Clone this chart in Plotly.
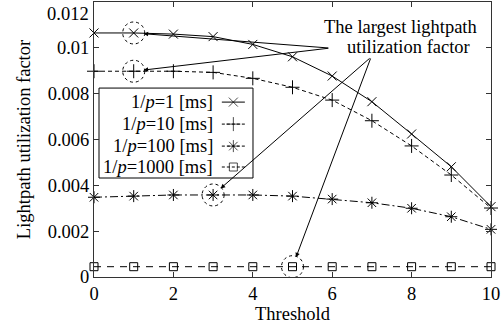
import plotly.graph_objects as go

# Threshold values on the x axis
threshold = [0, 1, 2, 3, 4, 5, 6, 7, 8, 9, 10]

# Lightpath utilization factor for each mean holding time 1/p
util_p1 = [0.01065, 0.01065, 0.0106, 0.01049, 0.01015, 0.00961, 0.00877, 0.00765, 0.00624, 0.00481, 0.00307]
util_p10 = [0.00898, 0.00898, 0.00898, 0.00893, 0.00867, 0.00828, 0.00772, 0.00682, 0.00572, 0.00445, 0.00301]
util_p100 = [0.00348, 0.00353, 0.00358, 0.00358, 0.00358, 0.00353, 0.0034, 0.00324, 0.003, 0.00263, 0.00208]
util_p1000 = [0.00045] * 11

series_names = ["1/<i>p</i>=1 [ms]", "1/<i>p</i>=10 [ms]", "1/<i>p</i>=100 [ms]", "1/<i>p</i>=1000 [ms]"]
series_values = [util_p1, util_p10, util_p100, util_p1000]

# Index of the point with the largest utilization in each series
peak_index = [1, 1, 3, 5]

y_tick_vals = [0, 0.002, 0.004, 0.006, 0.008, 0.01, 0.012]
y_tick_text = ["0", "0.002", "0.004", "0.006", "0.008", "0.01", "0.012"]
x_tick_vals = [0, 2, 4, 6, 8, 10]

FONT = "Liberation Serif"
FS = 18.5

styles = [
    dict(dash="solid", symbol="x-thin-open", size=9),
    dict(dash="4px,3px", symbol="cross-thin-open", size=10),
    dict(dash="8px,3px,2px,3px", symbol="asterisk-open", size=10),
    dict(dash="7px,6px", symbol="square-open", size=8),
]

fig = go.Figure()

for vals, st in zip(series_values, styles):
    fig.add_trace(go.Scatter(
        x=threshold, y=vals, mode="lines+markers",
        line=dict(color="black", width=1, dash=st["dash"]),
        marker=dict(symbol=st["symbol"], size=st["size"], color="black",
                    line=dict(color="black", width=1)),
        cliponaxis=False, showlegend=False,
    ))

# Dotted circles around the peak points
for vals, i in zip(series_values, peak_index):
    fig.add_shape(type="circle", xref="x", yref="y",
                  xsizemode="pixel", ysizemode="pixel",
                  xanchor=threshold[i], yanchor=vals[i],
                  x0=-11, x1=11, y0=-11, y1=11,
                  line=dict(color="black", width=1, dash="dot"))

# Callout text
fig.add_annotation(x=7.72, y=0.01091, xref="x", yref="y", text="The largest lightpath",
                   showarrow=False, font=dict(family=FONT, size=FS, color="black"))
fig.add_annotation(x=7.91, y=0.01004, xref="x", yref="y", text="utilization factor",
                   showarrow=False, font=dict(family=FONT, size=FS, color="black"))

# Arrows from the callout to the circled peaks
tails = [(5.94, 0.00999), (5.94, 0.00999), (6.98, 0.0096), (6.98, 0.0096)]
for (tx, ty), vals, i in zip(tails, series_values, peak_index):
    fig.add_annotation(x=threshold[i], y=vals[i], xref="x", yref="y",
                       ax=tx, ay=ty, axref="x", ayref="y", text="",
                       showarrow=True, arrowhead=2, arrowsize=0.9, arrowwidth=1,
                       arrowcolor="black", standoff=10)

# Hand-built legend: text on the left, line sample on the right
box = dict(x0=0.0126, x1=0.4005, y0=0.36, y1=0.687)
fig.add_shape(type="rect", xref="paper", yref="paper", **box,
              line=dict(color="black", width=1), fillcolor="white", layer="below")
row_y = [0.636, 0.556, 0.476, 0.40]
text_right = 0.305
sample_x = [0.322, 0.351, 0.38]
for name, st, ry in zip(series_names, styles, row_y):
    fig.add_annotation(x=text_right, y=ry, xref="paper", yref="paper", text=name,
                       xanchor="right", yanchor="middle", showarrow=False,
                       font=dict(family=FONT, size=FS, color="black"))
    fig.add_trace(go.Scatter(
        x=sample_x, y=[ry] * 3, mode="lines+markers", xaxis="x2", yaxis="y2",
        line=dict(color="black", width=1, dash="solid" if st["dash"] == "solid" else "3px,2px"),
        marker=dict(symbol=st["symbol"], size=[0, st["size"], 0], color="black",
                    line=dict(color="black", width=1)),
        cliponaxis=False, showlegend=False, hoverinfo="skip",
    ))

# The top tick label sits flush with the top edge of the plot, so it is
# placed as an annotation instead of a regular tick label.
top_label = y_tick_text[-1]
axis_tick_text = y_tick_text[:-1] + [""]
fig.add_annotation(x=0, y=1, xref="paper", yref="paper", text=top_label,
                   xanchor="right", yanchor="top", xshift=-3, showarrow=False,
                   font=dict(family=FONT, size=FS, color="black"))

axis_common = dict(showline=True, linecolor="#333333", linewidth=1, mirror="ticks",
                   ticks="inside", ticklen=5, tickcolor="#333333", showgrid=False,
                   zeroline=False, tickfont=dict(family=FONT, size=FS, color="black"))

fig.update_layout(
    width=501, height=328,
    margin=dict(l=94, r=10, t=2, b=51),
    paper_bgcolor="white", plot_bgcolor="white",
    font=dict(family=FONT, size=FS, color="black"),
    xaxis=dict(range=[0, 10], tickvals=x_tick_vals,
               title=dict(text="Threshold", font=dict(family=FONT, size=FS), standoff=1),
               **axis_common),
    yaxis=dict(range=[0, 0.012001], tickvals=y_tick_vals, ticktext=axis_tick_text,
               title=dict(text="Lightpath utilization factor", font=dict(family=FONT, size=FS), standoff=12),
               **axis_common),
    xaxis2=dict(overlaying="x", range=[0, 1], visible=False),
    yaxis2=dict(overlaying="y", range=[0, 1], visible=False),
)

fig.write_html("out.html")
